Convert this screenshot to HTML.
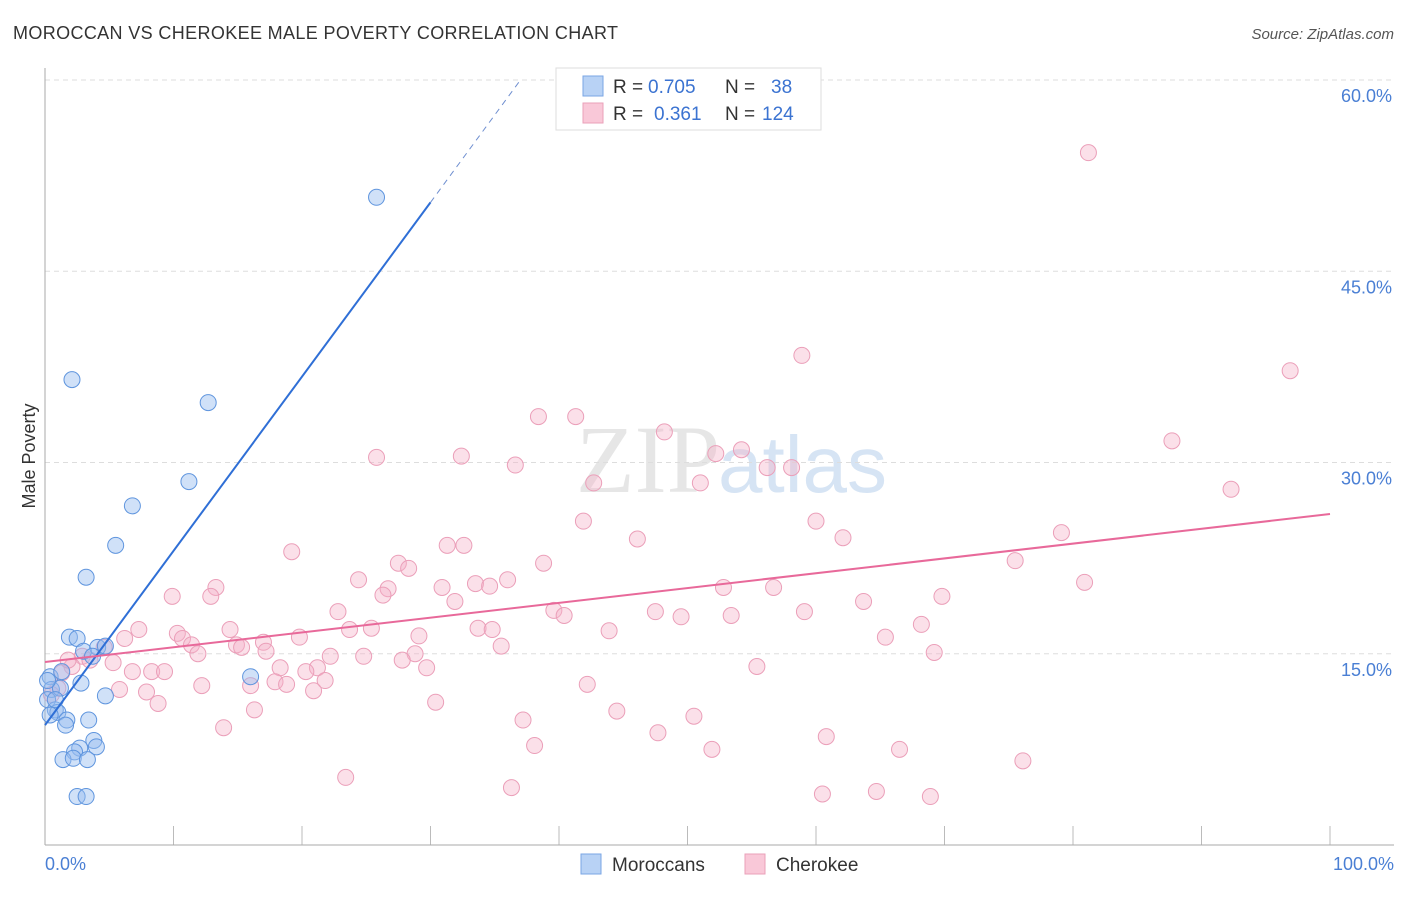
<!DOCTYPE html>
<html><head><meta charset="utf-8"><style>
body{margin:0;background:#fff;font-family:"Liberation Sans",sans-serif;}
</style></head><body>
<svg width="1406" height="892" xmlns="http://www.w3.org/2000/svg" font-family="Liberation Sans, sans-serif">
<text x="13" y="39" font-size="18" fill="#333" textLength="605">MOROCCAN VS CHEROKEE MALE POVERTY CORRELATION CHART</text>
<text x="1394" y="39" font-size="15" fill="#555" text-anchor="end" font-style="italic">Source: ZipAtlas.com</text>
<text x="720" y="492" font-size="96" fill="#e6e6e6" text-anchor="end" font-family="Liberation Serif, serif">ZIP</text>
<text x="718" y="492" font-size="80" fill="#d6e4f4">atlas</text>
<g id="grid"></g>
<line x1="45" y1="68" x2="45" y2="845" stroke="#aaa"/>
<line x1="45" y1="845" x2="1394" y2="845" stroke="#aaa"/>
<text x="35" y="456" font-size="18" fill="#333" text-anchor="middle" transform="rotate(-90 35 456)">Male Poverty</text>
<text x="45" y="870" font-size="18" fill="#4a7fd4">0.0%</text>
<text x="1394" y="870" font-size="18" fill="#4a7fd4" text-anchor="end">100.0%</text>
<g id="pts"></g>
<g id="lines"></g>
<g>
<rect x="556" y="68" width="265" height="62" fill="#fff" stroke="#ddd"/>
<rect x="583" y="76" width="20" height="20" fill="#b8d2f5" stroke="#7aa6e4"/>
<rect x="583" y="103" width="20" height="20" fill="#f9c8d8" stroke="#eaa0b9"/>
<text y="93" font-size="19" fill="#333"><tspan x="613">R =</tspan><tspan x="648" fill="#3b73d1">0.705</tspan><tspan x="725">N =</tspan><tspan x="771" fill="#3b73d1">38</tspan></text>
<text y="120" font-size="19" fill="#333"><tspan x="613">R =</tspan><tspan x="654" fill="#3b73d1">0.361</tspan><tspan x="725">N =</tspan><tspan x="762" fill="#3b73d1">124</tspan></text>
</g>
<g>
<rect x="581" y="854" width="20" height="20" fill="#b8d2f5" stroke="#7aa6e4"/>
<text x="612" y="871" font-size="19" fill="#333">Moroccans</text>
<rect x="745" y="854" width="20" height="20" fill="#f9c8d8" stroke="#eaa0b9"/>
<text x="776" y="871" font-size="19" fill="#333">Cherokee</text>
</g>
</svg>
<script>
const yTicks=[15,30,45,60];
const yTickLabels=["15.0%","30.0%","45.0%","60.0%"];
const xTicks=[10,20,30,40,50,60,70,80,90,100];
const morX=[25.8,2.1,12.7,11.2,6.8,5.5,3.2,1.9,2.5,3.0,4.1,4.7,3.7,0.4,1.3,2.8,16.0,0.5,1.2,0.2,4.7,0.8,1.0,1.7,1.6,3.4,3.8,2.7,2.3,4.0,1.4,2.2,3.3,2.5,3.2,0.2,0.8,0.4];
const morY=[50.8,36.5,34.7,28.5,26.6,23.5,21.0,16.3,16.2,15.2,15.5,15.6,14.8,13.2,13.6,12.7,13.2,12.2,12.3,11.4,11.7,10.6,10.4,9.8,9.4,9.8,8.2,7.6,7.3,7.7,6.7,6.8,6.7,3.8,3.8,12.9,11.4,10.2];
const cheX=[81.2,58.9,96.9,38.4,41.3,48.2,87.7,54.2,52.2,32.4,25.8,36.6,56.2,58.1,42.7,51.0,92.3,41.9,60.0,79.1,46.1,62.1,31.3,32.6,19.2,27.5,38.8,75.5,28.3,24.4,80.9,36.0,33.5,34.6,30.9,13.3,52.8,56.7,26.7,26.3,9.9,12.9,69.8,31.9,63.7,22.8,39.6,47.5,59.1,40.4,53.4,49.5,68.2,7.3,14.4,23.7,25.4,33.7,34.8,43.9,10.3,6.2,10.7,19.8,29.1,65.4,17.0,11.4,14.9,15.3,4.6,35.5,17.2,69.2,11.9,2.9,22.2,24.8,28.8,27.8,5.3,2.1,55.4,29.7,18.3,21.2,20.3,6.8,8.3,9.3,1.3,17.9,21.8,18.8,42.2,12.2,16.0,1.0,5.8,7.9,20.9,30.4,8.8,44.5,16.3,50.5,37.2,13.9,47.7,60.8,38.1,51.9,66.5,76.1,23.4,36.3,60.5,64.7,68.9,0.5,1.8,3.5];
const cheY=[54.3,38.4,37.2,33.6,33.6,32.4,31.7,31.0,30.7,30.5,30.4,29.8,29.6,29.6,28.4,28.4,27.9,25.4,25.4,24.5,24.0,24.1,23.5,23.5,23.0,22.1,22.1,22.3,21.7,20.8,20.6,20.8,20.5,20.3,20.2,20.2,20.2,20.2,20.1,19.6,19.5,19.5,19.5,19.1,19.1,18.3,18.4,18.3,18.3,18.0,18.0,17.9,17.3,16.9,16.9,16.9,17.0,17.0,16.9,16.8,16.6,16.2,16.2,16.3,16.4,16.3,15.9,15.7,15.7,15.5,15.5,15.6,15.2,15.1,15.0,14.8,14.8,14.8,15.0,14.5,14.3,14.0,14.0,13.9,13.9,13.9,13.6,13.6,13.6,13.6,13.5,12.8,12.9,12.6,12.6,12.5,12.5,12.3,12.2,12.0,12.1,11.2,11.1,10.5,10.6,10.1,9.8,9.2,8.8,8.5,7.8,7.5,7.5,6.6,5.3,4.5,4.0,4.2,3.8,11.8,14.5,14.5];
const morLine=[0,9.4,30,50.4,37,60];
const cheLine=[0,14.35,100,25.96];
const NS="http://www.w3.org/2000/svg";
const X=v=>45+v*12.85, Y=v=>845-v*12.75;
function mk(t,a,p){const e=document.createElementNS(NS,t);for(const k in a)e.setAttribute(k,a[k]);p.appendChild(e);return e;}
const grid=document.getElementById('grid');
yTicks.forEach((t,i)=>{
 const l=mk('line',{x1:45,x2:1394,y1:Y(t),y2:Y(t),stroke:'#ddd','stroke-dasharray':'5,4'},grid);
 
 
 const tx=mk('text',{x:1392,y:Y(t)+22,'font-size':18,fill:'#4a7fd4','text-anchor':'end'},grid);
 tx.textContent=yTickLabels[i];
 
 
});
xTicks.forEach(t=>{
 const l=mk('line',{x1:X(t),x2:X(t),y1:826,y2:845,stroke:'#bbb'},grid);
 
 
});
const pts=document.getElementById('pts');
cheX.forEach((x,i)=>{
 const c=mk('circle',{cx:X(x),cy:Y(cheY[i]),r:8,fill:'rgba(246,178,200,0.4)',stroke:'#eb9fb9','stroke-width':1},pts);
 
 
});
morX.forEach((x,i)=>{
 const c=mk('circle',{cx:X(x),cy:Y(morY[i]),r:8,fill:'rgba(150,188,240,0.45)',stroke:'#5f95de','stroke-width':1},pts);
 
 
});
const ln=document.getElementById('lines');
let a=mk('line',{x1:X(morLine[0]),y1:Y(morLine[1]),x2:X(morLine[2]),y2:Y(morLine[3]),stroke:'#2f6fd6','stroke-width':2},ln);


let b=mk('line',{x1:X(morLine[2]),y1:Y(morLine[3]),x2:X(morLine[4]),y2:Y(morLine[5]),stroke:'#6f8fd0','stroke-width':1,'stroke-dasharray':'6,5'},ln);


let c=mk('line',{x1:X(cheLine[0]),y1:Y(cheLine[1]),x2:X(cheLine[2]),y2:Y(cheLine[3]),stroke:'#e8699a','stroke-width':2},ln);


</script>
</body></html>
